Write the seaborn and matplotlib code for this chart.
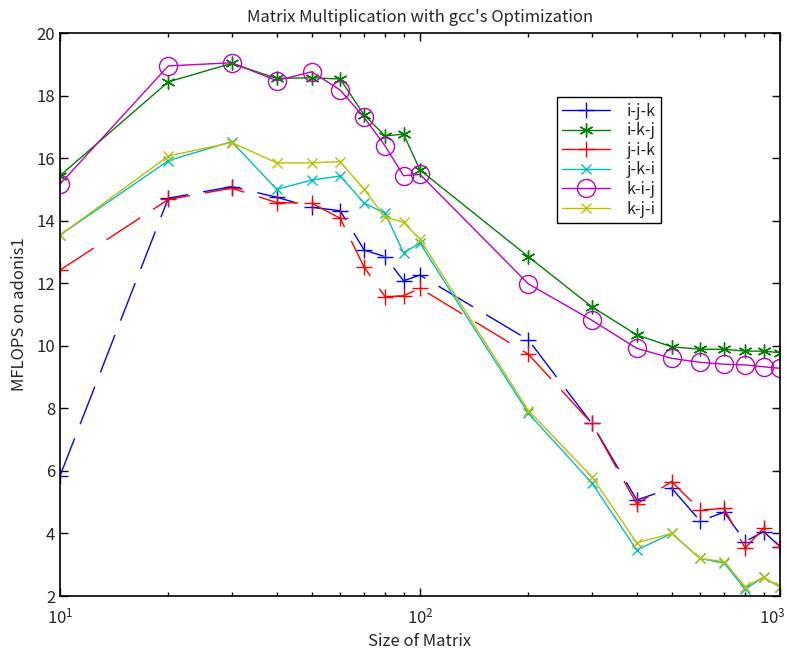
import matplotlib
matplotlib.use("Agg")
import matplotlib.pyplot as plt
import matplotlib.ticker as mticker
import seaborn as sns

sizes = [10, 20, 30, 40, 50, 60, 70, 80, 90, 100, 200, 300, 400, 500, 600, 700, 800, 900, 1000]

ijk = [5.84, 14.72, 15.09, 14.75, 14.43, 14.32, 13.06, 12.85, 12.08, 12.26,
       10.19, 7.52, 5.07, 5.45, 4.40, 4.68, 3.74, 4.06, 3.58]
ikj = [15.44, 18.44, 19.03, 18.55, 18.57, 18.53, 17.38, 16.71, 16.77, 15.62,
       12.85, 11.25, 10.35, 9.97, 9.89, 9.89, 9.83, 9.83, 9.78]
jik = [12.42, 14.68, 15.04, 14.58, 14.56, 14.08, 12.51, 11.57, 11.60, 11.84,
       9.73, 7.52, 4.94, 5.66, 4.75, 4.80, 3.53, 4.17, 3.58]
jki = [13.54, 15.92, 16.53, 15.00, 15.30, 15.43, 14.56, 14.24, 12.98, 13.28,
       7.84, 5.62, 3.47, 4.00, 3.20, 3.05, 2.22, 2.60, 2.28]
kij = [15.17, 18.95, 19.05, 18.48, 18.76, 18.18, 17.30, 16.39, 15.44, 15.48,
       11.98, 10.82, 9.92, 9.60, 9.47, 9.41, 9.39, 9.33, 9.28]
kji = [13.54, 16.07, 16.50, 15.85, 15.85, 15.89, 15.00, 14.11, 13.95, 13.40,
       7.93, 5.82, 3.70, 4.00, 3.20, 3.10, 2.30, 2.60, 2.30]

# asterisk marker like matlab's '*'
star = (6, 2, 0)
series = [
    ("i-j-k", ijk, (0, 0, 1), "+", 11, (0, (29, 11))),
    ("i-k-j", ikj, (0, 0.5, 0), star, 10, "-"),
    ("j-i-k", jik, (1, 0, 0), "+", 11, (0, (29, 11))),
    ("j-k-i", jki, (0, 0.75, 0.75), "x", 7, "-"),
    ("k-i-j", kij, (0.75, 0, 0.75), "o", 13, "-"),
    ("k-j-i", kji, (0.75, 0.75, 0), "x", 7, "-"),
]

sns.set_style("ticks")
plt.rcParams['font.family'] = ['Noto Sans CJK JP', 'DejaVu Sans']
plt.rcParams['mathtext.fontset'] = 'dejavusans'

fig = plt.figure(figsize=(7.87, 6.61), dpi=100)
ax = fig.add_axes([0.0762, 0.0983, 0.9149, 0.8517])
ax.set_xscale("log")

for name, vals, col, mk, ms, ls in series:
    sns.lineplot(x=sizes, y=vals, ax=ax, color=col, marker=mk, markersize=ms,
                 markerfacecolor="none" if mk == "o" else col,
                 markeredgecolor=col, markeredgewidth=1.0,
                 linewidth=1.0, linestyle=ls, label=name)

# legend shows solid lines
leg = ax.legend(loc="upper left", bbox_to_anchor=(0.690, 0.886), fontsize=11.5,
                frameon=True, fancybox=False, edgecolor="black", framealpha=1,
                handlelength=3.0, handletextpad=1.0, borderpad=0.35,
                labelspacing=0.16, borderaxespad=0)
for ln in leg.get_lines():
    ln.set_linestyle("-")
leg.get_frame().set_linewidth(1.0)

ax.set_xlim(10, 1000)
ax.set_ylim(2, 20)
ax.set_yticks(range(2, 21, 2))
ax.xaxis.set_major_locator(mticker.LogLocator(base=10, numticks=5))
ax.xaxis.set_minor_locator(mticker.LogLocator(base=10, subs=range(2, 10), numticks=20))

# last label (10^3) is drawn separately so it stays inside the canvas
base_fmt = mticker.LogFormatterSciNotation()
ax.xaxis.set_major_formatter(mticker.FuncFormatter(
    lambda v, pos: "" if v >= 999 else base_fmt(v, pos)))

ax.tick_params(which="both", direction="in", top=True, right=True, labelsize=12,
               color="black", width=1.0)
ax.tick_params(which="major", length=6)
ax.tick_params(which="minor", length=3)
ax.tick_params(axis="x", which="major", pad=8)
for sp in ax.spines.values():
    sp.set_linewidth(1.2)
    sp.set_color("black")

ax.annotate(r"$\mathdefault{10^{3}}$", xy=(1000, 0), xycoords=ax.get_xaxis_transform(),
            xytext=(4, -8), textcoords="offset points", ha="right", va="top", fontsize=12)

ax.set_title("Matrix Multiplication with gcc's Optimization", fontsize=12, pad=8)
ax.set_xlabel("Size of Matrix", fontsize=12, labelpad=4)
ax.set_ylabel("MFLOPS on adonis1", fontsize=12, labelpad=6)

fig.savefig("out.png", dpi=100)
